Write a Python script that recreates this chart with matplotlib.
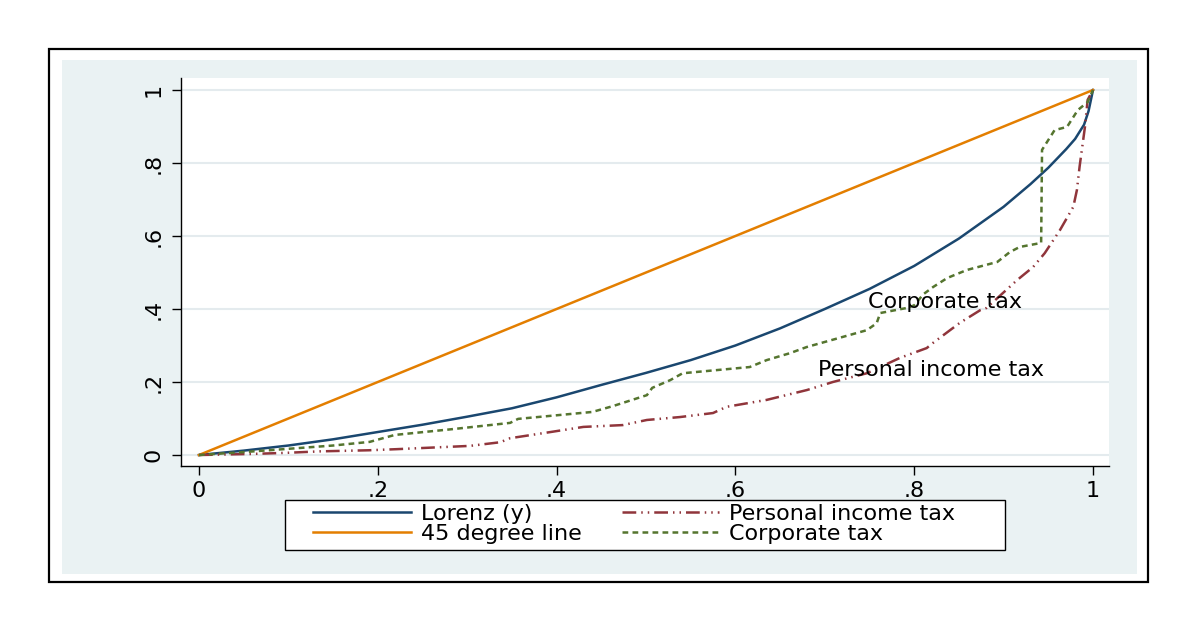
import matplotlib.pyplot as plt
from matplotlib.patches import Rectangle

# Lorenz curve of income (y)
lorenz_x = [0, .05, .1, .15, .2, .25, .3, .35, .4, .45, .5, .55, .6, .65, .7,
            .75, .8, .85, .9, .93, .95, .97, .98, .99, .995, 1]
lorenz_y = [0, .012, .026, .043, .063, .083, .105, .128, .158, .192, .225, .26,
            .3, .347, .4, .455, .518, .593, .68, .742, .787, .838, .866, .905,
            .942, 1]

# 45 degree line
diag_x = [0, 1]
diag_y = [0, 1]

# concentration curve, personal income tax
pit_x = [0, .06, .098, .135, .19, .221, .303, .337, .348, .396, .43, .474, .501,
         .538, .575, .59, .635, .68, .709, .747, .784, .814, .821, .851, .874,
         .881, .915, .933, .946, .963, .978, .982, .985, .991, .994, 1]
pit_y = [0, .003, .006, .01, .013, .016, .025, .035, .046, .064, .077, .082, .096,
         .104, .115, .132, .151, .178, .2, .224, .266, .293, .307, .362, .397,
         .403, .479, .515, .553, .616, .68, .726, .79, .899, .973, 1]

# concentration curve, corporate tax
corp_x = [0, .05, .1, .15, .191, .219, .284, .348, .357, .44, .463, .501, .507,
          .527, .541, .616, .635, .661, .68, .747, .758, .762, .792, .80, .81,
          .821, .837, .859, .893, .907, .918, .942, .943, .957, .971, .983, .994, 1]
corp_y = [0, .008, .017, .026, .036, .055, .071, .088, .099, .118, .134, .164,
          .184, .205, .224, .241, .26, .279, .296, .342, .361, .389, .403, .41,
          .44, .46, .485, .507, .529, .556, .57, .581, .836, .89, .899, .945, .967, 1]

ticks = [0, .2, .4, .6, .8, 1]
tick_labels = ["0", ".2", ".4", ".6", ".8", "1"]

NAVY = "#1a476f"
ORANGE = "#e37e00"
MAROON = "#90353b"
GREEN = "#55752f"
BG = "#eaf2f3"

plt.rcParams["font.family"] = ["DejaVu Sans"]

fig = plt.figure(figsize=(12, 6.31), dpi=100)
W, H = 1200, 631

# outer frame + stata graph region (behind the axes)
fig.patches.append(Rectangle((49 / W, 1 - 582 / H), (1148 - 49) / W, (582 - 49) / H,
                             transform=fig.transFigure, facecolor="white",
                             edgecolor="black", lw=1.6, zorder=-3))
fig.patches.append(Rectangle((62 / W, 1 - 574 / H), (1137 - 62) / W, (574 - 60) / H,
                             transform=fig.transFigure, facecolor=BG,
                             edgecolor="none", zorder=-2))
# legend box
fig.patches.append(Rectangle((285 / W, 1 - 550 / H), (1005 - 285) / W, 50 / H,
                             transform=fig.transFigure, facecolor="white",
                             edgecolor="black", lw=1, zorder=-1))

ax = fig.add_axes([181 / W, 1 - 466 / H, (1109 - 181) / W, (466 - 78) / H])
ax.set_facecolor("white")

lw = 1.8
ax.plot(lorenz_x, lorenz_y, color=NAVY, lw=lw, label="Lorenz (y)")
ax.plot(diag_x, diag_y, color=ORANGE, lw=lw, label="45 degree line")
ax.plot(pit_x, pit_y, color=MAROON, lw=lw, ls=(0, (5.5, 2, 0.6, 2, 0.6, 2)),
        label="Personal income tax")
ax.plot(corp_x, corp_y, color=GREEN, lw=lw, ls=(0, (2.3, 1.7)), label="Corporate tax")

ax.text(.748, .419, "Corporate tax", fontsize=16, ha="left", va="center")
ax.text(.692, .233, "Personal income tax", fontsize=16, ha="left", va="center")

ax.set_xlim(-0.0201, 1.0179)
ax.set_ylim(-0.0301, 1.0329)
ax.set_xticks(ticks)
ax.set_xticklabels(tick_labels)
ax.set_yticks(ticks)
ax.set_yticklabels(tick_labels, rotation=90, va="center")
ax.tick_params(axis="both", direction="out", length=6.5, width=1, labelsize=16)
ax.tick_params(axis="x", pad=4)
ax.tick_params(axis="y", pad=6)

ax.grid(axis="y", color="#e4ebee", lw=1.5)
ax.set_axisbelow(True)
for s in ["top", "right"]:
    ax.spines[s].set_visible(False)
for s in ["left", "bottom"]:
    ax.spines[s].set_linewidth(1)

leg = ax.legend(loc="upper left", bbox_to_anchor=(313 / W, 1 - 504 / H),
                bbox_transform=fig.transFigure, ncol=2, frameon=False,
                fontsize=16, borderpad=0, handlelength=4.4, handletextpad=0.45,
                columnspacing=1.8, labelspacing=0.0, borderaxespad=0)

fig.savefig("out.png", dpi=100, facecolor="white")
